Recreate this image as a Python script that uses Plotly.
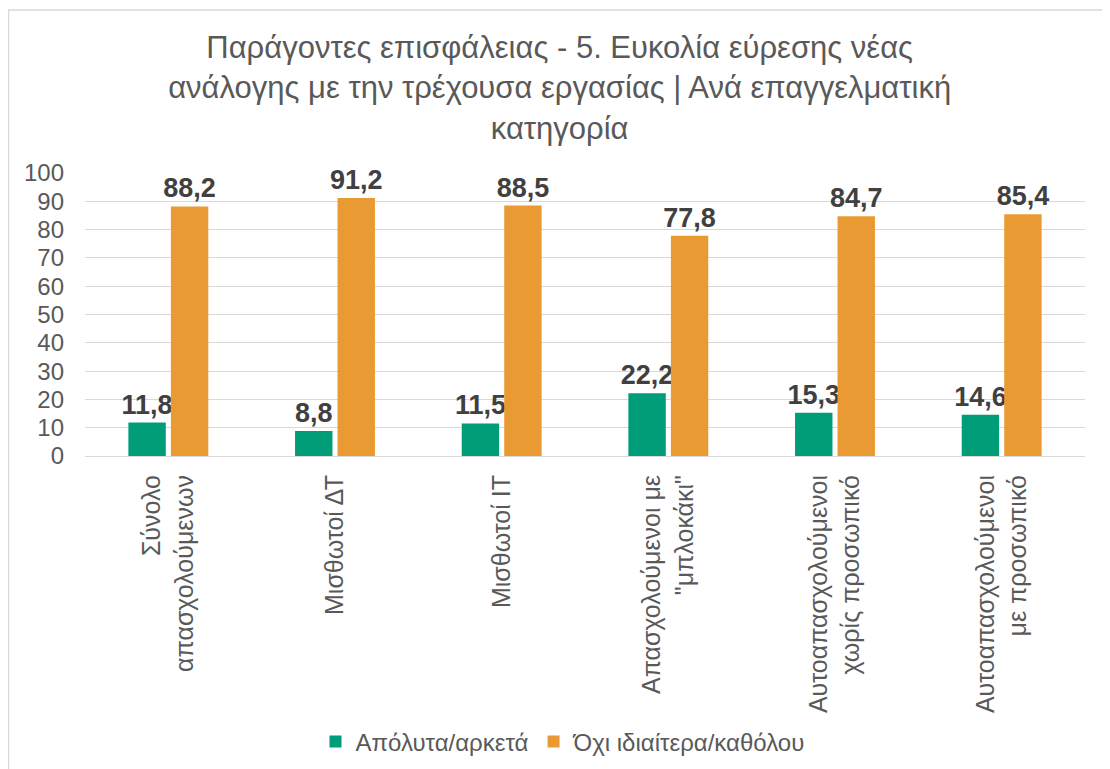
import plotly.graph_objects as go

categories = [
    "Σύνολο<br>απασχολούμενων",
    "Μισθωτοί ΔΤ",
    "Μισθωτοί ΙΤ",
    "Απασχολούμενοι με<br>\"μπλοκάκι\"",
    "Αυτοαπασχολούμενοι<br>χωρίς προσωπικό",
    "Αυτοαπασχολούμενοι<br>με προσωπικό",
]
series_names = ["Απόλυτα/αρκετά", "Όχι ιδιαίτερα/καθόλου"]
values_a = [11.8, 8.8, 11.5, 22.2, 15.3, 14.6]
values_b = [88.2, 91.2, 88.5, 77.8, 84.7, 85.4]
colors = ["#009D78", "#EA9A33"]
y_ticks = [0, 10, 20, 30, 40, 50, 60, 70, 80, 90, 100]

title_text = ("Παράγοντες επισφάλειας - 5. Ευκολία εύρεσης νέας<br>"
              "ανάλογης με την τρέχουσα εργασίας | Ανά επαγγελματική<br>"
              "κατηγορία")

FONT = "Liberation Sans, Arial, sans-serif"

fig = go.Figure()
for name, vals, col in zip(series_names, [values_a, values_b], colors):
    fig.add_trace(go.Bar(
        x=categories, y=vals, name=name,
        marker=dict(color=col, line=dict(width=0)),
        text=[f"{v:.1f}".replace(".", ",") for v in vals],
        textposition="outside",
        constraintext="none",
        cliponaxis=False,
        textfont=dict(family=FONT, size=27, color="#404040", weight="bold"),
    ))

fig.update_layout(
    width=1110, height=769,
    paper_bgcolor="white", plot_bgcolor="white",
    margin=dict(l=77, r=33, t=165, b=321, autoexpand=False),
    barmode="group", bargap=0.49, bargroupgap=0.12,
    title=dict(text=title_text, x=0.497, xanchor="center", xref="container",
               y=0.935, yanchor="middle",
               font=dict(family=FONT, size=31, color="#595959")),
    font=dict(family=FONT, color="#595959"),
    showlegend=True,
    legend=dict(orientation="h", x=0.478, xanchor="center",
                yref="container", y=1 - 734 / 769, yanchor="middle",
                font=dict(family=FONT, size=24, color="#595959"),
                itemwidth=30, traceorder="normal"),
    shapes=[dict(type="rect", xref="paper", yref="paper",
                 x0=-0.0765, x1=1.06, y0=-1.3, y1=1.576,
                 line=dict(color="#D9D9D9", width=1.5), fillcolor="rgba(0,0,0,0)",
                 layer="below")],
)
fig.update_yaxes(range=[0, 100], tickvals=y_ticks, showgrid=True, gridcolor="#D9D9D9",
                 gridwidth=1, zeroline=False, showline=False,
                 tickfont=dict(family=FONT, size=24, color="#595959"), ticks="",
                 ticklen=0, ticklabelstandoff=20, automargin=False)
fig.update_xaxes(tickangle=-90, showline=True, linecolor="#D9D9D9", linewidth=1,
                 tickfont=dict(family=FONT, size=25, color="#595959"), ticks="",
                 ticklabelstandoff=8, automargin=False)

fig.write_html("out.html")
